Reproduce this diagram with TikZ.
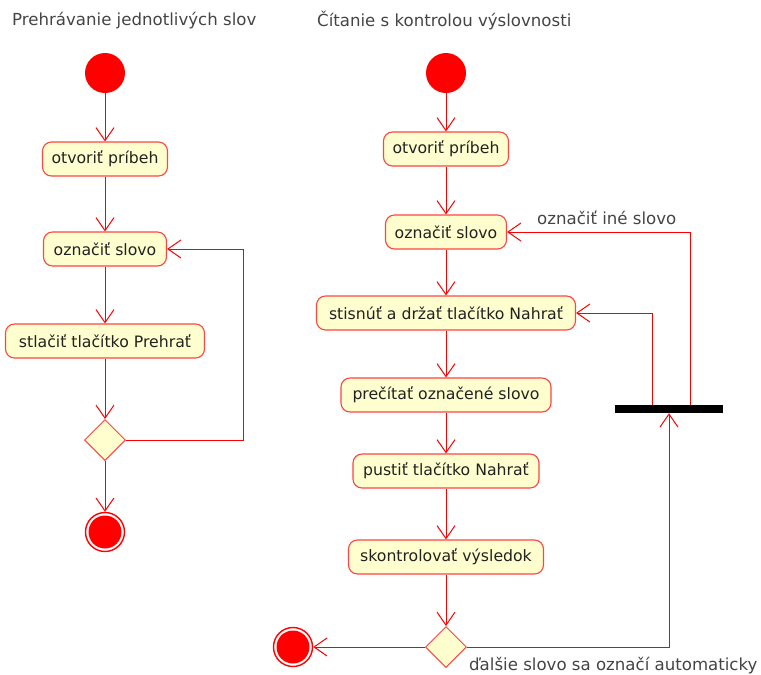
\documentclass[tikz,border=0pt]{standalone}
\usepackage{fontspec}
\setmainfont{DejaVu Sans}
\usetikzlibrary{arrows.meta,shapes.geometric,calc}
\definecolor{boxfill}{HTML}{FEFECE}
\definecolor{boxline}{HTML}{FF4444}
\definecolor{txt}{HTML}{222222}
\definecolor{ttl}{HTML}{444444}
\tikzset{
  act/.style={draw=boxline, fill=boxfill, line width=1.1pt, rounded corners=9pt,
    minimum height=34pt, inner xsep=0pt, inner ysep=0pt, text=txt,
    font=\fontsize{15.7}{18}\selectfont},
  startnode/.style={circle, fill=red, minimum size=40pt, inner sep=0pt},
  endnode/.style={circle, draw=red, line width=1.4pt, fill=white, minimum size=39pt, inner sep=0pt},
  decision/.style={diamond, draw=boxline, fill=boxfill, line width=1pt, minimum width=41pt, minimum height=41pt, inner sep=0pt},
  barnode/.style={rectangle, fill=black, minimum width=108pt, minimum height=8pt, inner sep=0pt},
  arr/.style={draw=red, line width=1pt, -{Straight Barb[length=13pt,width=18pt,line width=1pt]}},
  lbl/.style={text=ttl, font=\fontsize{16.6}{19}\selectfont, inner sep=0pt},
}
\begin{document}
\begin{tikzpicture}[x=1pt,y=-1pt]
\useasboundingbox (0,0) rectangle (761,675);
% titles
\node[lbl, anchor=west] (t1) at (12,21) {Prehrávanie jednotlivých slov};
\node[lbl, anchor=west] (t2) at (317,21) {Čítanie s kontrolou výslovnosti};
% left diagram
\node[startnode] (s1) at (105,73) {};
\node[act, minimum width=125pt] (a1) at (105,159) {otvoriť príbeh};
\node[act, minimum width=123pt] (a2) at (105,249) {označiť slovo};
\node[act, minimum width=199pt] (a3) at (105,341) {stlačiť tlačítko Prehrať};
\node[decision] (d1) at (105,440) {};
\node[endnode] (e1) at (105,532) {};
\fill[red] (e1.center) circle (16.5);
\coordinate (c1) at (243,440);
\draw[arr] (s1) -- (a1);
\draw[arr] (a1) -- (a2);
\draw[arr] (a2) -- (a3);
\draw[arr] (a3) -- (d1);
\draw[arr] (d1) -- (e1);
\draw[arr] (d1.east) -- (c1) |- (a2.east);
% right diagram
\node[startnode] (s2) at (446,73) {};
\node[act, minimum width=125pt] (b1) at (446,149) {otvoriť príbeh};
\node[act, minimum width=121pt] (b2) at (446,232) {označiť slovo};
\node[act, minimum width=259pt] (b3) at (446,313) {stisnúť a držať tlačítko Nahrať};
\node[act, minimum width=210pt] (b4) at (446,395) {prečítať označené slovo};
\node[act, minimum width=186pt] (b5) at (446,471) {pustiť tlačítko Nahrať};
\node[act, minimum width=195pt] (b6) at (446,557) {skontrolovať výsledok};
\node[decision] (d2) at (446,647) {};
\node[endnode] (e2) at (293,647) {};
\fill[red] (e2.center) circle (16.5);
\node[barnode] (bar) at (669,409) {};
\coordinate (f1) at (652,405);
\coordinate (f2) at (690,405);
\draw[arr] (s2) -- (b1);
\draw[arr] (b1) -- (b2);
\draw[arr] (b2) -- (b3);
\draw[arr] (b3) -- (b4);
\draw[arr] (b4) -- (b5);
\draw[arr] (b5) -- (b6);
\draw[arr] (b6) -- (d2);
\draw[arr] (d2.west) -- (e2.east);
\draw[arr] (d2.east) -| (bar.south);
\draw[arr] (f1) |- (b3.east);
\draw[arr] (f2) |- (b2.east);
\node[lbl, anchor=west] (l1) at (537,218) {označiť iné slovo};
\node[lbl, anchor=west] (l2) at (469,666) {ďalšie slovo sa označí automaticky};
\end{tikzpicture}
\end{document}
